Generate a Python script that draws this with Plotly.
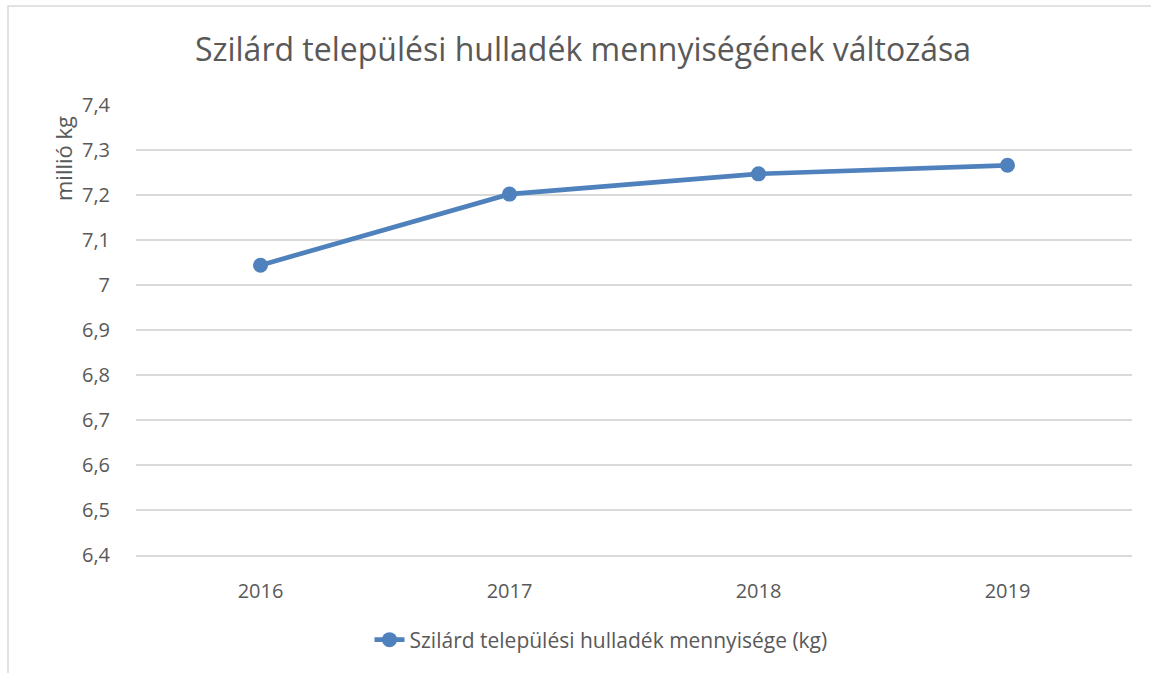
import plotly.graph_objects as go

years = ["2016", "2017", "2018", "2019"]
values = [7.044, 7.202, 7.247, 7.266]
series_name = "Szilárd települési hulladék mennyisége (kg)"
title_text = "Szilárd települési hulladék mennyiségének változása"
y_title = "millió kg"
y_tickvals = [6.4, 6.5, 6.6, 6.7, 6.8, 6.9, 7.0, 7.1, 7.2, 7.3, 7.4]
y_ticktext = ["6,4", "6,5", "6,6", "6,7", "6,8", "6,9", "7", "7,1", "7,2", "7,3", "7,4"]

W, H = 1151, 673
L, R, T, B = 136, 19, 105, 118
pw, ph = W - L - R, H - T - B

FONT = "Open Sans"
GREY = "#595959"
BLUE = "#4F81BD"
GRID = "#D9D9D9"

fig = go.Figure()
fig.add_trace(go.Scatter(
    x=years, y=values, mode="lines+markers", name=series_name,
    line=dict(color=BLUE, width=4.7),
    marker=dict(color=BLUE, size=15),
))

fig.update_layout(
    width=W, height=H,
    margin=dict(l=L, r=R, t=T, b=B),
    paper_bgcolor="white", plot_bgcolor="white",
    font=dict(family=FONT, color=GREY, size=16),
    title=dict(text=title_text, x=583 / W, xref="container", xanchor="center",
               y=1 - 50 / H, yref="container", yanchor="middle",
               font=dict(size=32, color=GREY, family=FONT)),
    showlegend=True,
    legend=dict(orientation="h", x=601 / W, xanchor="center", xref="container",
                y=1 - 640 / H, yanchor="middle", yref="container",
                font=dict(size=21, color=GREY, family=FONT)),
    xaxis=dict(type="category", range=[-0.5, 3.5], showgrid=False,
               showline=True, linecolor=GRID, linewidth=1.5,
               zeroline=False, ticks="", ticklabelstandoff=17,
               tickfont=dict(size=20, color=GREY)),
    yaxis=dict(range=[6.4, 7.4], tickvals=y_tickvals, ticktext=y_ticktext,
               showgrid=True, gridcolor=GRID, gridwidth=1.5, showline=False,
               zeroline=False, ticks="", ticklabelstandoff=25,
               tickfont=dict(size=20, color=GREY)),
    shapes=[dict(type="rect", xref="paper", yref="paper",
                 x0=(8 - L) / pw, x1=(W + 5 - L) / pw,
                 y0=-(H + 5 - T - ph) / ph, y1=1 + (T - 6) / ph,
                 line=dict(color=GRID, width=1.5), fillcolor="rgba(0,0,0,0)",
                 layer="below")],
    annotations=[dict(text=y_title, xref="paper", yref="paper",
                      x=(63 - L) / pw, y=1 - (159 - T) / ph, xanchor="center", yanchor="middle",
                      textangle=-90, showarrow=False,
                      font=dict(size=22, color=GREY, family=FONT))],
)

fig.write_html("out.html", config={"displayModeBar": False},
               post_script="document.body.style.margin='0px';")
